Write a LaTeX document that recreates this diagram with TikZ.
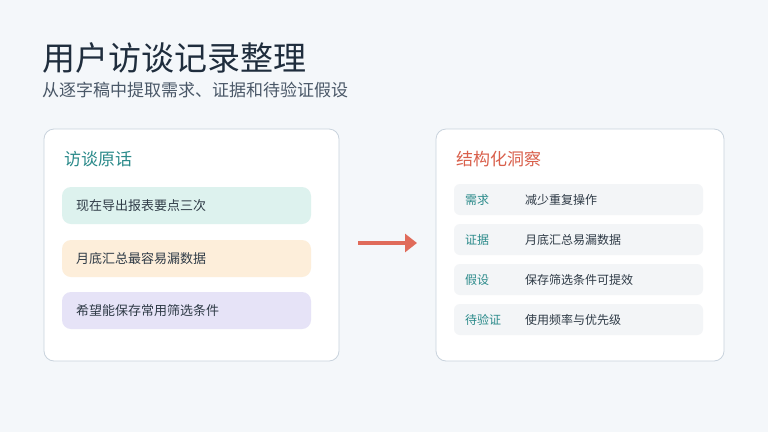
\documentclass[tikz,border=0pt]{standalone}
\usepackage{fontspec}
\setmainfont{Noto Sans CJK SC}
\usetikzlibrary{arrows.meta}
\definecolor{bg}{HTML}{F4F7FA}
\definecolor{navy}{HTML}{1F2D3D}
\definecolor{sub}{HTML}{4A5868}
\definecolor{cardline}{HTML}{C9D3DD}
\definecolor{teal}{HTML}{2A8A8A}
\definecolor{coral}{HTML}{D9604C}
\definecolor{arrowc}{HTML}{E06B5A}
\definecolor{mint}{HTML}{DDF2EE}
\definecolor{peach}{HTML}{FDEEDA}
\definecolor{lav}{HTML}{E6E3F7}
\definecolor{rowbg}{HTML}{F3F5F7}
\definecolor{txt}{HTML}{2E3A46}
\begin{document}
\begin{tikzpicture}[x=1pt,y=-1pt,
 card/.style={draw=cardline,line width=0.8pt,fill=white,rounded corners=10pt},
 pill/.style={rounded corners=9pt},
 row/.style={fill=rowbg,rounded corners=6pt},
 ptext/.style={anchor=west,font=\fontsize{13}{15}\selectfont,text=txt,inner sep=0},
 lab/.style={anchor=west,font=\fontsize{12}{14}\selectfont,text=teal,inner sep=0},
 val/.style={anchor=west,font=\fontsize{12}{14}\selectfont,text=txt,inner sep=0},
 head/.style={anchor=west,font=\fontsize{17}{20}\selectfont,inner sep=0}]
\fill[bg] (0,0) rectangle (768,432);
\useasboundingbox (0,0) rectangle (768,432);
\node[anchor=west,inner sep=0,font=\fontsize{33}{38}\selectfont,text=navy] (title) at (42,58) {用户访谈记录整理};
\node[anchor=west,inner sep=0,font=\fontsize{17}{20}\selectfont,text=sub] (subtitle) at (42,90) {从逐字稿中提取需求、证据和待验证假设};
\draw[card] (44,129) rectangle (339,361);
\node[head,text=teal] (lh) at (64,159) {访谈原话};
\fill[pill,mint] (62,187) rectangle (311,224);
\node[ptext] (p1) at (76,205.5) {现在导出报表要点三次};
\fill[pill,peach] (62,240) rectangle (311,277);
\node[ptext] (p2) at (76,258.5) {月底汇总最容易漏数据};
\fill[pill,lav] (62,292) rectangle (311,329);
\node[ptext] (p3) at (76,310.5) {希望能保存常用筛选条件};
\coordinate (a1) at (358,243);
\coordinate (a2) at (417,243);
\draw[arrowc,line width=4pt,-{Triangle[length=12pt,width=18pt]}] (a1) -- (a2);
\draw[card] (436,129) rectangle (724,361);
\node[head,text=coral] (rh) at (456,159) {结构化洞察};
\fill[row] (454,184) rectangle (703,215);
\node[lab] (l1) at (465,199.5) {需求};
\node[val] (v1) at (525,199.5) {减少重复操作};
\fill[row] (454,224) rectangle (703,255);
\node[lab] (l2) at (465,239.5) {证据};
\node[val] (v2) at (525,239.5) {月底汇总易漏数据};
\fill[row] (454,264) rectangle (703,295);
\node[lab] (l3) at (465,279.5) {假设};
\node[val] (v3) at (525,279.5) {保存筛选条件可提效};
\fill[row] (454,304) rectangle (703,335);
\node[lab] (l4) at (465,319.5) {待验证};
\node[val] (v4) at (525,319.5) {使用频率与优先级};
\end{tikzpicture}
\end{document}
